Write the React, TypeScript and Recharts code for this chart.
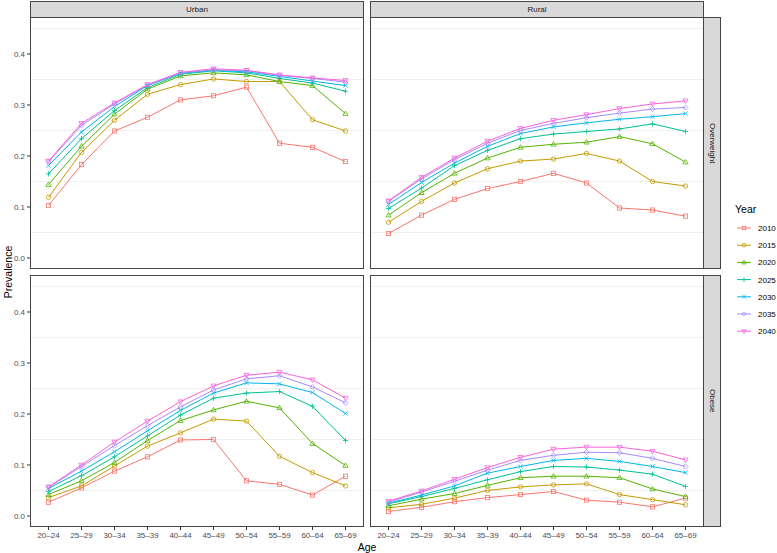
import React from 'react';
import { LineChart, Line, XAxis, YAxis, ReferenceLine } from 'recharts';

const ages = ['20–24', '25–29', '30–34', '35–39', '40–44', '45–49', '50–54', '55–59', '60–64', '65–69'];
const years = ['2010', '2015', '2020', '2025', '2030', '2035', '2040'];
const colors = ['#F8766D', '#C49A00', '#53B400', '#00C094', '#00B6EB', '#A58AFF', '#FB61D7'];
const shapes = ['square', 'circle', 'triUp', 'plus', 'cross', 'diamond', 'triDown'];
const yTicks = [0, 0.1, 0.2, 0.3, 0.4];
const minorGrid = [0.05, 0.15, 0.25, 0.35, 0.45];

// one row per year (2010 .. 2040), one value per age group
const urbanOverweight = [
  [0.103, 0.183, 0.249, 0.276, 0.310, 0.318, 0.335, 0.225, 0.217, 0.189],
  [0.119, 0.207, 0.270, 0.321, 0.340, 0.351, 0.346, 0.346, 0.271, 0.249],
  [0.144, 0.219, 0.282, 0.331, 0.357, 0.363, 0.359, 0.346, 0.338, 0.283],
  [0.165, 0.234, 0.289, 0.334, 0.360, 0.367, 0.363, 0.352, 0.343, 0.327],
  [0.181, 0.247, 0.297, 0.338, 0.362, 0.368, 0.365, 0.356, 0.347, 0.338],
  [0.189, 0.260, 0.302, 0.339, 0.363, 0.369, 0.367, 0.358, 0.352, 0.345],
  [0.190, 0.264, 0.304, 0.340, 0.364, 0.371, 0.368, 0.359, 0.353, 0.348],
];

const ruralOverweight = [
  [0.048, 0.084, 0.115, 0.136, 0.150, 0.166, 0.147, 0.098, 0.094, 0.082],
  [0.070, 0.111, 0.147, 0.175, 0.190, 0.194, 0.205, 0.190, 0.150, 0.141],
  [0.084, 0.128, 0.166, 0.196, 0.217, 0.223, 0.227, 0.238, 0.224, 0.188],
  [0.097, 0.137, 0.181, 0.211, 0.234, 0.243, 0.248, 0.253, 0.263, 0.248],
  [0.105, 0.148, 0.186, 0.219, 0.244, 0.257, 0.265, 0.272, 0.277, 0.283],
  [0.111, 0.155, 0.193, 0.225, 0.250, 0.264, 0.275, 0.284, 0.292, 0.295],
  [0.112, 0.158, 0.196, 0.229, 0.254, 0.270, 0.281, 0.293, 0.302, 0.308],
];

const urbanObese = [
  [0.027, 0.055, 0.088, 0.116, 0.149, 0.150, 0.069, 0.062, 0.041, 0.078],
  [0.036, 0.059, 0.098, 0.137, 0.163, 0.190, 0.186, 0.117, 0.085, 0.059],
  [0.042, 0.069, 0.105, 0.148, 0.187, 0.208, 0.225, 0.212, 0.142, 0.099],
  [0.048, 0.079, 0.116, 0.157, 0.198, 0.231, 0.241, 0.244, 0.215, 0.148],
  [0.054, 0.088, 0.126, 0.167, 0.207, 0.241, 0.261, 0.259, 0.242, 0.201],
  [0.056, 0.097, 0.138, 0.177, 0.214, 0.247, 0.269, 0.275, 0.253, 0.222],
  [0.057, 0.100, 0.145, 0.186, 0.224, 0.255, 0.276, 0.282, 0.267, 0.231],
];

const ruralObese = [
  [0.009, 0.017, 0.028, 0.036, 0.042, 0.048, 0.031, 0.027, 0.018, 0.035],
  [0.016, 0.023, 0.035, 0.050, 0.057, 0.061, 0.063, 0.042, 0.032, 0.022],
  [0.020, 0.033, 0.044, 0.060, 0.075, 0.078, 0.078, 0.075, 0.053, 0.038],
  [0.024, 0.038, 0.054, 0.071, 0.087, 0.097, 0.096, 0.090, 0.082, 0.058],
  [0.025, 0.041, 0.059, 0.084, 0.097, 0.109, 0.113, 0.107, 0.097, 0.085],
  [0.027, 0.047, 0.068, 0.090, 0.109, 0.119, 0.125, 0.124, 0.113, 0.097],
  [0.029, 0.049, 0.072, 0.095, 0.115, 0.131, 0.135, 0.135, 0.127, 0.110],
];

const FONT = '"Liberation Sans", Arial, Helvetica, sans-serif';
const Y_DOMAIN = [-0.0216, 0.4725];
const PANEL_W = 334;
const PANEL_H = 252;

const toRows = (panel: number[][]) =>
  ages.map((age, i) => {
    const row: Record<string, any> = { age };
    years.forEach((y, j) => {
      row['y' + y] = panel[j][i];
    });
    return row;
  });

const Glyph = ({ shape, x, y, color, k = 1 }: { shape: string; x: number; y: number; color: string; k?: number }) => {
  const s = 2.1 * k;
  const t = 2.6 * k;
  const common = { fill: 'none', stroke: color, strokeWidth: 0.8 };
  switch (shape) {
    case 'square':
      return <rect x={x - s} y={y - s} width={s * 2} height={s * 2} {...common} />;
    case 'circle':
      return <circle cx={x} cy={y} r={s * 1.05} {...common} />;
    case 'triUp':
      return <polygon points={`${x},${y - t} ${x - t},${y + t * 0.7} ${x + t},${y + t * 0.7}`} {...common} />;
    case 'triDown':
      return <polygon points={`${x},${y + t} ${x - t},${y - t * 0.7} ${x + t},${y - t * 0.7}`} {...common} />;
    case 'plus':
      return <path d={`M${x - t},${y}H${x + t}M${x},${y - t}V${y + t}`} {...common} />;
    case 'cross':
      return <path d={`M${x - s},${y - s}L${x + s},${y + s}M${x - s},${y + s}L${x + s},${y - s}`} {...common} />;
    case 'diamond':
      return <polygon points={`${x},${y - t} ${x + t},${y} ${x},${y + t} ${x - t},${y}`} {...common} />;
    default:
      return null;
  }
};

const makeDot = (j: number) => (props: any) => {
  const { cx, cy, index } = props;
  if (cx == null || cy == null) return <g key={`d${j}-${index}`} />;
  return (
    <g key={`d${j}-${index}`}>
      <Glyph shape={shapes[j]} x={cx} y={cy} color={colors[j]} />
    </g>
  );
};

interface PanelProps {
  data: number[][];
  left: number;
  top: number;
  showY: boolean;
  showX: boolean;
}

const Panel: React.FC<PanelProps> = ({ data, left, top, showY, showX }) => {
  const yW = showY ? 30 : 0;
  const xH = showX ? 20 : 0;
  return (
    <div style={{ position: 'absolute', left: left - yW, top }}>
      <LineChart
        width={PANEL_W + yW}
        height={PANEL_H + xH}
        data={toRows(data)}
        margin={{ top: 0, right: 0, bottom: 0, left: 0 }}
      >
        <XAxis
          dataKey="age"
          type="category"
          hide={!showX}
          height={xH}
          padding={{ left: 18.5, right: 18.5 }}
          tickSize={3}
          tickMargin={2}
          interval={0}
          axisLine={false}
          tickLine={{ stroke: '#333333' }}
          tick={{ fontSize: 8, fill: '#4d4d4d', fontFamily: FONT }}
        />
        <YAxis
          type="number"
          domain={Y_DOMAIN}
          ticks={yTicks}
          hide={!showY}
          width={yW}
          tickSize={3}
          tickMargin={2}
          axisLine={false}
          tickLine={{ stroke: '#333333' }}
          tick={{ fontSize: 8, fill: '#4d4d4d', fontFamily: FONT }}
          tickFormatter={(v: number) => v.toFixed(1)}
          allowDataOverflow
        />
        {minorGrid.map((g) => (
          <ReferenceLine key={g} y={g} stroke="#f0f0f0" strokeWidth={1} />
        ))}
        {years.map((y, j) => (
          <Line
            key={y}
            type="linear"
            dataKey={'y' + y}
            stroke={colors[j]}
            strokeWidth={1}
            dot={makeDot(j)}
            activeDot={false}
            isAnimationActive={false}
          />
        ))}
      </LineChart>
      <div
        style={{
          position: 'absolute',
          left: yW,
          top: 0,
          width: PANEL_W,
          height: PANEL_H,
          border: '1px solid #444444',
          boxSizing: 'border-box',
          pointerEvents: 'none',
        }}
      />
    </div>
  );
};

const stripBase: React.CSSProperties = {
  position: 'absolute',
  background: '#d9d9d9',
  border: '1px solid #444444',
  boxSizing: 'border-box',
  display: 'flex',
  alignItems: 'center',
  justifyContent: 'center',
  fontSize: 8,
  color: '#1a1a1a',
};

const App: React.FC = () => {
  return (
    <div
      style={{
        position: 'absolute',
        left: 0,
        top: 0,
        width: 777,
        height: 553,
        background: '#ffffff',
        fontFamily: FONT,
        overflow: 'hidden',
      }}
    >
      <Panel data={urbanOverweight} left={30} top={17} showY showX={false} />
      <Panel data={ruralOverweight} left={370} top={17} showY={false} showX={false} />
      <Panel data={urbanObese} left={30} top={275} showY showX />
      <Panel data={ruralObese} left={370} top={275} showY={false} showX />

      <div style={{ ...stripBase, left: 30, top: 1, width: PANEL_W, height: 17 }}>Urban</div>
      <div style={{ ...stripBase, left: 370, top: 1, width: PANEL_W, height: 17 }}>Rural</div>
      <div style={{ ...stripBase, left: 703, top: 17, width: 18, height: PANEL_H }}>
        <span style={{ writingMode: 'vertical-rl' }}>Overweight</span>
      </div>
      <div style={{ ...stripBase, left: 703, top: 275, width: 18, height: PANEL_H }}>
        <span style={{ writingMode: 'vertical-rl' }}>Obese</span>
      </div>

      <div
        style={{
          position: 'absolute',
          left: 8,
          top: 272,
          transform: 'translate(-50%, -50%) rotate(-90deg)',
          fontSize: 10.5,
          color: '#000',
          whiteSpace: 'nowrap',
        }}
      >
        Prevalence
      </div>
      <div
        style={{
          position: 'absolute',
          left: 367,
          top: 547,
          transform: 'translate(-50%, -50%)',
          fontSize: 10.5,
          color: '#000',
        }}
      >
        Age
      </div>

      <div style={{ position: 'absolute', left: 735, top: 203, fontSize: 10.5, color: '#000' }}>Year</div>
      <svg style={{ position: 'absolute', left: 733, top: 218 }} width={44} height={122}>
        {years.map((y, j) => {
          const cy = 10 + j * 17.2;
          return (
            <g key={y}>
              <line x1={4} x2={18} y1={cy} y2={cy} stroke={colors[j]} strokeWidth={1} />
              <Glyph shape={shapes[j]} x={11} y={cy} color={colors[j]} k={0.85} />
              <text x={25} y={cy + 3} fontSize={8} fill="#000" fontFamily={FONT}>
                {y}
              </text>
            </g>
          );
        })}
      </svg>
    </div>
  );
};

export default App;
